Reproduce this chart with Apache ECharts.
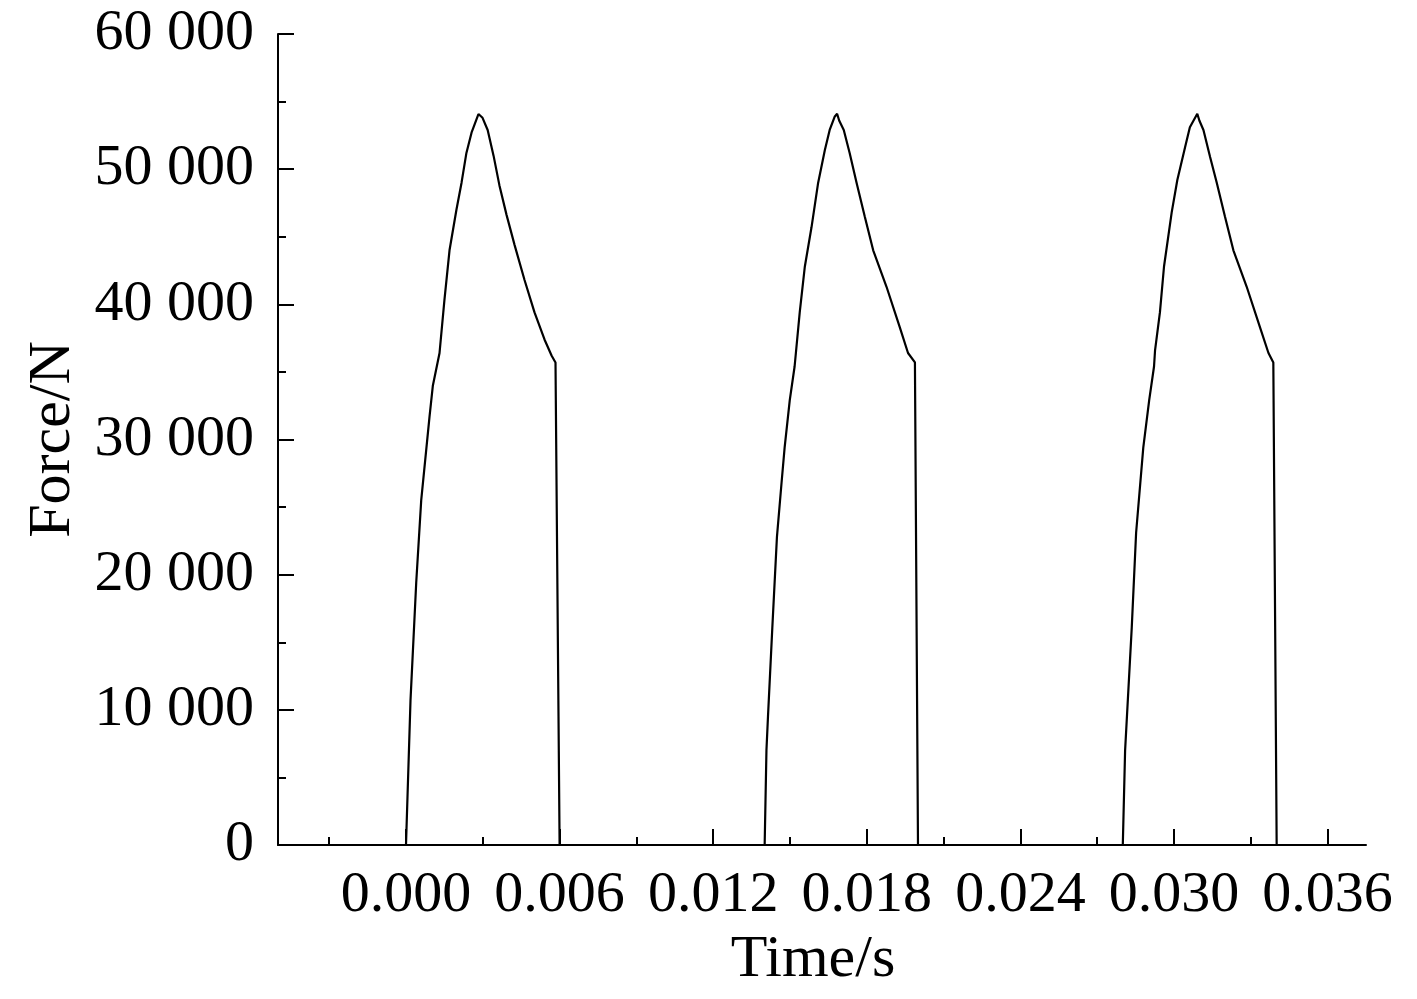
<!DOCTYPE html>
<html lang="en">
<head>
    <meta charset="UTF-8">
    <title>Force - Time</title>
    <script src="https://cdn.jsdelivr.net/npm/echarts@6.0.0/dist/echarts.min.js"></script>
    <style>
        html, body { margin: 0; padding: 0; background: #fff; }
    </style>
</head>
<body>
<div id="main" style="width: 1417px;height:999px;"></div>
<script>
    // 时间 (s)，三个脉冲依次排列
    var timeS = [
        0, 0.000176, 0.000399, 0.000594, 0.000919, 0.00105, 0.00131, 0.0015, 0.0017, 0.00197,
        0.00217, 0.00236, 0.00256, 0.00283, 0.00299, 0.00319, 0.00342, 0.00365, 0.00393, 0.00424,
        0.00463, 0.00502, 0.00541, 0.00569, 0.00584, 0.006,
        0.01401, 0.01408, 0.01414, 0.01431, 0.01449, 0.01467, 0.01479, 0.01499, 0.01518, 0.01538,
        0.01558, 0.01584, 0.0161, 0.01636, 0.01655, 0.01675, 0.01684, 0.01692, 0.0171, 0.01733,
        0.0176, 0.01792, 0.01825, 0.01877, 0.01929, 0.01961, 0.01988, 0.02,
        0.028, 0.02809, 0.02835, 0.02852, 0.0288, 0.02903, 0.02922, 0.02926, 0.02945, 0.02961,
        0.02991, 0.03013, 0.03043, 0.03062, 0.03091, 0.03099, 0.03115, 0.03141, 0.03167, 0.03199,
        0.03232, 0.03284, 0.03336, 0.03369, 0.03388, 0.03401
    ];
    // 力 (N)
    var forceN = [
        0, 10700, 19400, 25500, 31700, 34000, 36400, 40300, 44000, 47000,
        49000, 51200, 52700, 54080, 53800, 52900, 51000, 48800, 46600, 44400,
        41800, 39400, 37400, 36200, 35700, 0,
        0, 7000, 9500, 16100, 22800, 26800, 29400, 32900, 35400, 39400,
        42800, 45700, 49000, 51400, 52900, 53900, 54100, 53600, 52900, 51200,
        49000, 46500, 44000, 41300, 38300, 36400, 35700, 0,
        0, 7000, 16100, 23100, 29400, 32900, 35400, 36600, 39400, 42800,
        46800, 49200, 51600, 53100, 54100, 53600, 52900, 50900, 49000, 46500,
        44000, 41300, 38300, 36400, 35700, 0
    ];
    // 刻度
    var xMajorTicks = [0, 0.006, 0.012, 0.018, 0.024, 0.030, 0.036];
    var xMinorTicks = [-0.003, 0.003, 0.009, 0.015, 0.021, 0.027, 0.033];

    var font = '"Liberation Serif", "Times New Roman", serif';
    var seriesData = timeS.map(function (t, i) { return [t, forceN[i]]; });

    var myChart = echarts.init(document.getElementById('main'));
    var option = {
        backgroundColor: '#fff',
        animation: false,
        grid: {left: 278, right: 51, top: 34, bottom: 154},
        xAxis: [
            {
                type: 'value',
                position: 'bottom',
                min: -0.005,
                max: 0.0375,
                name: 'Time/s',
                nameLocation: 'middle',
                nameGap: 80,
                nameTextStyle: {fontFamily: font, fontSize: 60, color: '#000', padding: [0, 18, 0, 0]},
                axisLine: {show: true, onZero: false, lineStyle: {color: '#000', width: 2}},
                axisTick: {show: true, inside: true, length: 16, customValues: xMajorTicks,
                    lineStyle: {color: '#000', width: 2}},
                axisLabel: {customValues: xMajorTicks, margin: 22, fontFamily: font, fontSize: 58, color: '#000',
                    formatter: function (v) { return v.toFixed(3); }},
                splitLine: {show: false}
            },
            {
                type: 'value',
                position: 'bottom',
                min: -0.005,
                max: 0.0375,
                axisLine: {show: false, onZero: false},
                axisTick: {show: true, inside: true, length: 8, customValues: xMinorTicks,
                    lineStyle: {color: '#000', width: 2}},
                axisLabel: {show: false},
                splitLine: {show: false}
            }
        ],
        yAxis: {
            type: 'value',
            min: 0,
            max: 60000,
            interval: 10000,
            name: 'Force/N',
            nameLocation: 'middle',
            nameGap: 194,
            nameTextStyle: {fontFamily: font, fontSize: 60, color: '#000'},
            axisLine: {show: true, onZero: false, lineStyle: {color: '#000', width: 2}},
            axisTick: {show: true, inside: true, length: 16, lineStyle: {color: '#000', width: 2}},
            minorTick: {show: true, splitNumber: 2, length: 8, lineStyle: {color: '#000', width: 2}},
            axisLabel: {margin: 24, fontFamily: font, fontSize: 58, color: '#000',
                formatter: function (v) { return String(v).replace(/\B(?=(\d{3})+(?!\d))/g, ' '); }},
            splitLine: {show: false}
        },
        series: [
            {
                type: 'line',
                xAxisIndex: 0,
                data: seriesData,
                showSymbol: false,
                symbol: 'none',
                lineStyle: {color: '#000', width: 2.2},
                z: 3
            }
        ]
    };
    myChart.setOption(option);
</script>
</body>
</html>
